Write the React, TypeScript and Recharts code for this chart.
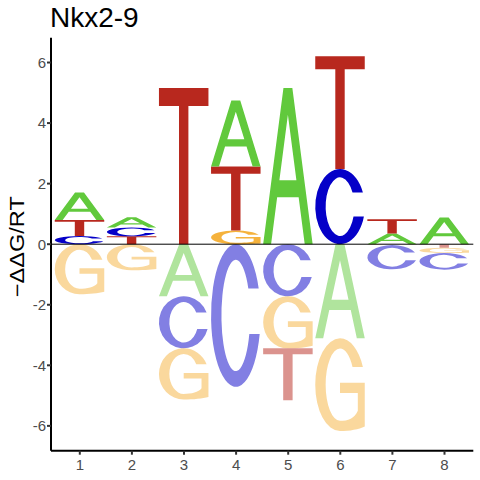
import React from 'react';
import { BarChart, Bar, XAxis, YAxis, ReferenceLine } from 'recharts';

const positions = ['1', '2', '3', '4', '5', '6', '7', '8'];
// signed -ddG/RT per letter and position
const energyA = [0.91, 0.34, -1.72, 2.18, 5.16, -3.11, 0.35, 0.88];
const energyC = [0.27, 0.29, -1.72, -4.71, -1.72, 2.48, -0.8, -0.55];
const energyG = [-1.65, -0.86, -1.69, 0.45, -1.72, -3.06, -0.03, -0.17];
const energyT = [0.53, 0.26, 5.16, 2.12, -1.71, 3.73, 0.47, -0.12];
// stacking order: positive from zero upward, negative from zero downward
const positiveOrder = ['CTA', 'TCA', 'T', 'GTA', 'A', 'CT', 'AT', 'A'];
const negativeOrder = ['G', 'G', 'ACG', 'C', 'CGT', 'AG', 'GC', 'TGC'];
const yTicks = [-6, -4, -2, 0, 2, 4, 6];
const title = 'Nkx2-9';
const yLabel = '\u2212\u0394\u0394G/RT';

const energies: Record<string, number[]> = { A: energyA, C: energyC, G: energyG, T: energyT };

const data = positions.map((pos, i) => {
  const row: Record<string, any> = { pos };
  for (let k = 0; k < 3; k++) {
    const lp = positiveOrder[i][k];
    row['p' + k] = lp ? energies[lp][i] : 0;
    row['p' + k + 'L'] = lp || '';
    const ln = negativeOrder[i][k];
    row['n' + k] = ln ? energies[ln][i] : 0;
    row['n' + k + 'L'] = ln || '';
  }
  return row;
});

const PATHS: Record<string, string> = {
  A: 'M0,100 L41,0 L59,0 L100,100 L84,100 L71.7,70 L28.3,70 L16,100 Z M32.8,59 L67.2,59 L50,17.1 Z',
  T: 'M0,0 H100 V11.5 H59.5 V100 H40.5 V11.5 H0 Z',
  C: 'M96.25,31 A50,50 0 1,0 98.28,63 L77.3,63 A29,39 0 1,1 75.3,31 Z',
  G: 'M96.25,31 A50,50 0 0,0 50,0 A50,50 0 0,0 0,50 A50,50 0 0,0 50,100 C70,100 88,98 100,95 L100,48 L50,48 L50,59 L86,59 L86,78 C80,86 66,89 50,89 A29,39 0 0,1 21,50 A29,39 0 0,1 50,11 A29,39 0 0,1 75.3,31 Z',
};

const COLORS: Record<string, string> = {
  A: '#61C93C',
  C: '#0500C8',
  G: '#F5B23C',
  T: '#B8281E',
};

const makeShape = (slot: string, negative: boolean) => (props: any) => {
  const { x, y, width, height, payload } = props;
  const letter = payload ? payload[slot + 'L'] : '';
  if (!letter) return <g />;
  let top = y;
  let h = height;
  if (h < 0) {
    top = y + h;
    h = -h;
  }
  if (!(h > 0.05)) return <g />;
  return (
    <g transform={`translate(${x},${top}) scale(${width / 100},${h / 100})`}>
      <path d={PATHS[letter]} fill={COLORS[letter]} fillOpacity={negative ? 0.5 : 1} fillRule="evenodd" />
    </g>
  );
};

const slots = [
  { key: 'p0', neg: false },
  { key: 'p1', neg: false },
  { key: 'p2', neg: false },
  { key: 'n0', neg: true },
  { key: 'n1', neg: true },
  { key: 'n2', neg: true },
];

export default function App() {
  return (
    <div
      style={{
        position: 'absolute',
        left: 0,
        top: 0,
        width: 480,
        height: 480,
        background: '#fff',
        fontFamily: '"Liberation Sans", Arial, sans-serif',
      }}
    >
      <BarChart
        width={480}
        height={480}
        data={data}
        margin={{ top: 37.7, right: 6.7, left: 0, bottom: 0 }}
        stackOffset="sign"
        barSize={49.5}
        barGap={0}
      >
        <XAxis
          dataKey="pos"
          height={29.3}
          interval={0}
          tickSize={4}
          tickMargin={5}
          padding={{ left: 2.75, right: 2.75 }}
          axisLine={{ stroke: '#000', strokeWidth: 2 }}
          tickLine={{ stroke: '#333', strokeWidth: 2 }}
          tick={{ fill: '#4D4D4D', fontSize: 15 }}
        />
        <YAxis
          type="number"
          domain={[-6.82, 6.82]}
          ticks={yTicks}
          allowDataOverflow
          width={51}
          tickSize={4}
          tickMargin={1}
          axisLine={{ stroke: '#000', strokeWidth: 2 }}
          tickLine={{ stroke: '#333', strokeWidth: 2 }}
          tick={{ fill: '#4D4D4D', fontSize: 15 }}
        />
        {slots.map((s) => (
          <Bar
            key={s.key}
            dataKey={s.key}
            stackId="logo"
            isAnimationActive={false}
            shape={makeShape(s.key, s.neg)}
          />
        ))}
        <ReferenceLine y={0} stroke="#000" strokeWidth={1} />
      </BarChart>
      <svg
        width={480}
        height={480}
        style={{ position: 'absolute', left: 0, top: 0, pointerEvents: 'none' }}
      >
        <text x={50} y={27.3} fontSize={28} fill="#000">
          {title}
        </text>
        <text
          transform="translate(24,246.7) rotate(-90)"
          textAnchor="middle"
          fontSize={20}
          fill="#000"
          textLength={101}
          lengthAdjust="spacingAndGlyphs"
        >
          {yLabel}
        </text>
      </svg>
    </div>
  );
}
